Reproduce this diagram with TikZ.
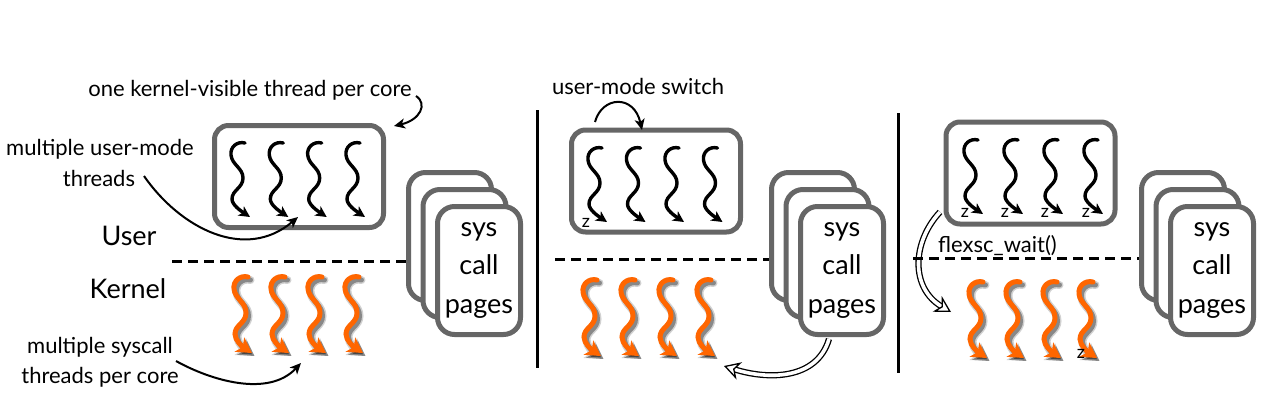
\documentclass[tikz,border=0pt]{standalone}
\usepackage{fontspec}
\setmainfont{Lato}
\usetikzlibrary{arrows.meta}
\definecolor{boxgray}{HTML}{666666}
\definecolor{throrange}{HTML}{FF6600}
\tikzset{
  bthread/.pic={
    \draw[line width=3.4pt, line cap=round, -{Stealth[length=11pt,width=11pt,inset=3pt]}]
      (0,0) .. controls (-8,-2) and (-15,4) .. (-14,12)
      .. controls (-13,22) and (-2,25) .. (-2,35)
      .. controls (-2,45) and (-13,47) .. (-13,56)
      .. controls (-13,62) and (-4,68) .. (5,74);
  },
  othread/.pic={
    \begin{scope}[shift={(2.5,3)}]
    \draw[black, opacity=0.18, line width=8pt, line cap=round, -{Stealth[length=17pt,width=20pt,inset=4pt]}]
      (0,0) .. controls (-8,-2) and (-15,4) .. (-14,12)
      .. controls (-13,22) and (-2,25) .. (-2,36)
      .. controls (-2,46) and (-13,48) .. (-13,57)
      .. controls (-13,64) and (-5,70) .. (4,76);
    \draw[black, opacity=0.35, line width=5pt, line cap=round, -{Stealth[length=15pt,width=17pt,inset=4pt]}]
      (0,0) .. controls (-8,-2) and (-15,4) .. (-14,12)
      .. controls (-13,22) and (-2,25) .. (-2,36)
      .. controls (-2,46) and (-13,48) .. (-13,57)
      .. controls (-13,64) and (-5,70) .. (4,76);
    \end{scope}
    \draw[throrange, line width=5pt, line cap=round, -{Stealth[length=15pt,width=17pt,inset=4pt]}]
      (0,0) .. controls (-8,-2) and (-15,4) .. (-14,12)
      .. controls (-13,22) and (-2,25) .. (-2,36)
      .. controls (-2,46) and (-13,48) .. (-13,57)
      .. controls (-13,64) and (-5,70) .. (4,76);
  },
}
\begin{document}
\begin{tikzpicture}[x=1pt,y=-1pt,
  lbl/.style={font=\fontsize{22}{26}\selectfont, inner sep=0pt, anchor=base},
  biglbl/.style={font=\fontsize{27}{38.5}\selectfont, inner sep=0pt, anchor=base},
  zlbl/.style={font=\fontsize{18}{20}\selectfont, inner sep=0pt},
  panelbox/.style={draw=boxgray, line width=5pt, rounded corners=14pt, fill=white,
    minimum width=169pt, minimum height=102pt, inner sep=0pt},
  pagebox/.style={draw=boxgray, line width=5pt, rounded corners=17pt, fill=white,
    minimum width=83pt, minimum height=128pt, inner sep=0pt, align=center,
    font=\fontsize{27}{38.5}\selectfont},
  divider/.style={line width=3pt},
  levelline/.style={dash pattern=on 10pt off 6pt, line width=3pt},
  callout/.style={line width=2pt, -{Stealth[length=11pt,width=10pt,inset=3pt]}},
  hollow/.style={double=white, double distance=3.6pt, line width=1.3pt,
    -{Stealth[length=16pt,width=18pt,inset=5pt,fill=white,line width=1.3pt]}},
]
\useasboundingbox (0,0) rectangle (1280,412);

% ---------- dividers ----------
\coordinate (d1t) at (537,110); \coordinate (d1b) at (537,368);
\coordinate (d2t) at (898,113); \coordinate (d2b) at (898,373);
\draw[divider] (d1t) -- (d1b);
\draw[divider] (d2t) -- (d2b);

% ================= PANEL 1 =================
\node[lbl] (core) at (250,96) {one kernel-visible thread per core};
\node[lbl] (mum) at (100,155) {multiple user-mode};
\node[lbl] (thr) at (99,186) {threads};
\node[biglbl] (user) at (129,245) {User};
\node[biglbl] (kern) at (128,298) {Kernel};
\node[lbl] (msc) at (100,353) {multiple syscall};
\node[lbl] (tpc) at (100,383) {threads per core};

\node[panelbox] (box1) at (299,176.5) {};
\foreach \x in {245,283.3,321.7,360} \pic at (\x,143) {bthread};
\foreach \x in {248,285,322,359} \pic at (\x,277) {othread};

\coordinate (l1a) at (172,261); \coordinate (l1b) at (408,261);
\draw[levelline] (l1a) -- (l1b);
\node[pagebox] (p1c) at (450,236.5) {};
\node[pagebox] (p1b) at (464.5,253.5) {};
\node[pagebox] (p1a) at (479,270.5) {sys\\call\\pages};

\coordinate (c1s) at (416,96); \coordinate (c1e) at (394,126);
\draw[callout] (c1s) .. controls (428,104) and (420,120) .. (c1e);
\coordinate (c2s) at (144,176); \coordinate (c2e) at (298,217);
\draw[callout] (c2s) .. controls (180,228) and (245,262) .. (c2e);
\coordinate (c3s) at (176,361); \coordinate (c3e) at (301,363);
\draw[callout] (c3s) .. controls (210,380) and (268,398) .. (c3e);

% ================= PANEL 2 =================
\node[lbl] (ums) at (638,95) {user-mode switch};
\node[panelbox] (box2) at (656,181) {};
\foreach \x in {602,640.5,679,717.5} \pic at (\x,148) {bthread};
\node[zlbl] (z2) at (586,223) {z};
\foreach \x in {597,635,673,711} \pic at (\x,280) {othread};

\coordinate (l2a) at (555,259); \coordinate (l2b) at (771,259);
\draw[levelline] (l2a) -- (l2b);
\node[pagebox] (p2c) at (813,236.5) {};
\node[pagebox] (p2b) at (827.5,253.5) {};
\node[pagebox] (p2a) at (842,270.5) {sys\\call\\pages};

\coordinate (c4s) at (595,122); \coordinate (c4e) at (642,130);
\draw[callout] (c4s) .. controls (602,96) and (634,94) .. (c4e);
\coordinate (h1s) at (829,339); \coordinate (h1e) at (724,366);
\draw[hollow] (h1s) .. controls (817,380) and (768,380) .. (h1e);

% ================= PANEL 3 =================
\node[panelbox] (box3) at (1030.5,173) {};
\foreach \x in {978,1018,1058,1098} \pic at (\x,140) {bthread};
\foreach \x/\n in {965/a,1005/b,1045/c,1086/d} \node[zlbl] (z3\n) at (\x,213) {z};
\foreach \x in {983,1020,1057,1093} \pic at (\x,282) {othread};
\node[zlbl] (z3e) at (1081,354) {z};

\coordinate (h2s) at (940,212); \coordinate (h2e) at (951,312);
\draw[hollow] (h2s) .. controls (912,242) and (910,288) .. (h2e);

\coordinate (l3a) at (913,258); \coordinate (l3b) at (1140,258);
\draw[levelline] (l3a) -- (l3b);
\node[lbl] (fw) at (997.5,252) {flexsc\_wait()};
\node[pagebox] (p3c) at (1183,236.5) {};
\node[pagebox] (p3b) at (1197.5,253.5) {};
\node[pagebox] (p3a) at (1212,270.5) {sys\\call\\pages};
\end{tikzpicture}
\end{document}
